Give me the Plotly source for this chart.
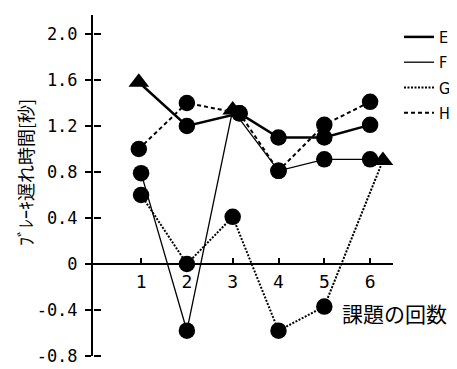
import plotly.graph_objects as go

# ---- data ----
x_EH = [0.95, 2, 3.15, 4, 5, 6]
E = [1.58, 1.2, 1.31, 1.1, 1.1, 1.21]
H = [1.0, 1.4, 1.31, 0.81, 1.21, 1.41]
x_F = [1, 2, 3, 4, 5, 6]
F = [0.79, -0.58, 1.34, 0.81, 0.91, 0.91]
x_G = [1, 2, 3, 4, 5, 6.28]
G = [0.6, 0.0, 0.41, -0.58, -0.37, 0.9]

sym_E = ["triangle-up", "circle", "circle", "circle", "circle", "circle"]
sym_F = ["circle", "circle", "triangle-up", "circle", "circle", "circle"]
sym_G = ["circle", "circle", "circle", "circle", "circle", "triangle-up"]
sym_H = ["circle"] * 6

x_ticks = [1, 2, 3, 4, 5, 6]
y_ticks = [-0.8, -0.4, 0, 0.4, 0.8, 1.2, 1.6, 2.0]
y_tick_text = ["-0.8", "-0.4", "0", "0.4", "0.8", "1.2", "1.6", "2.0"]

names = ["E", "F", "G", "H"]
y_title = "ﾌﾞﾚｰｷ遅れ時間[秒]"
x_title = "課題の回数"

Y_RANGE = [-0.8, 2.165]
X_RANGE = [-0.05, 6.5]

styles = {
    "E": dict(width=2.5, dash="solid"),
    "F": dict(width=1.3, dash="solid"),
    "G": dict(width=2, dash="2px,1.5px"),
    "H": dict(width=2, dash="4px,3px"),
}

fig = go.Figure()
series = [("E", x_EH, E, sym_E), ("F", x_F, F, sym_F), ("G", x_G, G, sym_G), ("H", x_EH, H, sym_H)]
for name, xs, ys, sym in series:
    st = styles[name]
    fig.add_trace(go.Scatter(
        x=xs, y=ys, mode="lines+markers", showlegend=False, cliponaxis=False,
        line=dict(color="black", width=st["width"], dash=st["dash"]),
        marker=dict(color="black", opacity=1,
                    size=[18 if s == "triangle-up" else 16.5 for s in sym], symbol=sym,
                    line=dict(width=0)),
    ))
# legend-only line samples
for name in names:
    st = styles[name]
    fig.add_trace(go.Scatter(
        x=[None], y=[None], mode="lines", name=name, legendgroup=name,
        line=dict(color="black", width=st["width"], dash=st["dash"]),
    ))
# invisible trace so the overlaid tick axis is drawn
fig.add_trace(go.Scatter(x=[1], y=[0], yaxis="y2", mode="markers", showlegend=False,
                         hoverinfo="skip", marker=dict(opacity=0)))

y_tick_font = dict(family="DejaVu Sans Mono", size=17, color="black")
x_tick_font = dict(family="DejaVu Sans Mono", size=18, color="black")
zero_pos = (0 - Y_RANGE[0]) / (Y_RANGE[1] - Y_RANGE[0])

# the page body has an 8px margin, so the figure starts at (8, 8) in the window
OFF = 8
W, Hh = 457 - OFF, 369 - OFF
L, R, T, B = 93 - OFF, 0, 15 - OFF, 13
plot_w = W - L - R
plot_h = Hh - T - B
axis_len_px = 300
x_dom_end = axis_len_px / plot_w


def px_x(wx):  # window x -> paper fraction
    return (wx - OFF - L) / plot_w


def px_y(wy):  # window y -> paper fraction
    return 1 - (wy - OFF - T) / plot_h


fig.update_layout(
    width=W, height=Hh,
    margin=dict(l=L, r=R, t=T, b=B, autoexpand=False),
    paper_bgcolor="white", plot_bgcolor="white",
    showlegend=True,
    legend=dict(x=px_x(399), y=px_y(20), xanchor="left", yanchor="top",
                font=dict(family="Liberation Sans Narrow, DejaVu Sans Condensed, Arial Narrow, sans-serif",
                          size=16, color="black"),
                bgcolor="rgba(0,0,0,0)", tracegroupgap=1.5),
    xaxis=dict(range=X_RANGE, domain=[0, x_dom_end], anchor="free", position=zero_pos,
               automargin=False,
               showline=True, linecolor="black", linewidth=2,
               showgrid=False, zeroline=False,
               tickmode="array", tickvals=x_ticks, ticktext=[str(v) for v in x_ticks],
               ticks="inside", ticklen=5, tickwidth=1.5, tickcolor="black",
               tickfont=x_tick_font, ticklabelstandoff=1),
    yaxis=dict(range=Y_RANGE, automargin=False, showline=True, linecolor="black", linewidth=2,
               showgrid=False, zeroline=False,
               tickmode="array", tickvals=y_ticks, ticktext=y_tick_text,
               ticks="outside", ticklen=6, tickwidth=1.5, tickcolor="black",
               tickfont=y_tick_font, ticklabelstandoff=4),
    yaxis2=dict(range=Y_RANGE, overlaying="y", anchor="free", position=0, side="right",
                automargin=False,
                showline=False, showgrid=False, zeroline=False,
                tickmode="array", tickvals=y_ticks, showticklabels=False,
                ticks="outside", ticklen=7, tickwidth=1.5, tickcolor="black"),
)

fig.add_annotation(text=y_title, xref="paper", yref="paper", x=px_x(25), y=px_y(173),
                   xanchor="center", yanchor="middle",
                   textangle=-90, showarrow=False,
                   font=dict(family="Noto Sans CJK JP", size=18, color="black"))
fig.add_annotation(text=x_title, xref="paper", yref="paper", x=px_x(394), y=px_y(313),
                   xanchor="center", yanchor="middle",
                   showarrow=False,
                   font=dict(family="Noto Sans CJK JP", size=21, color="black"))

fig.write_html("out.html")
